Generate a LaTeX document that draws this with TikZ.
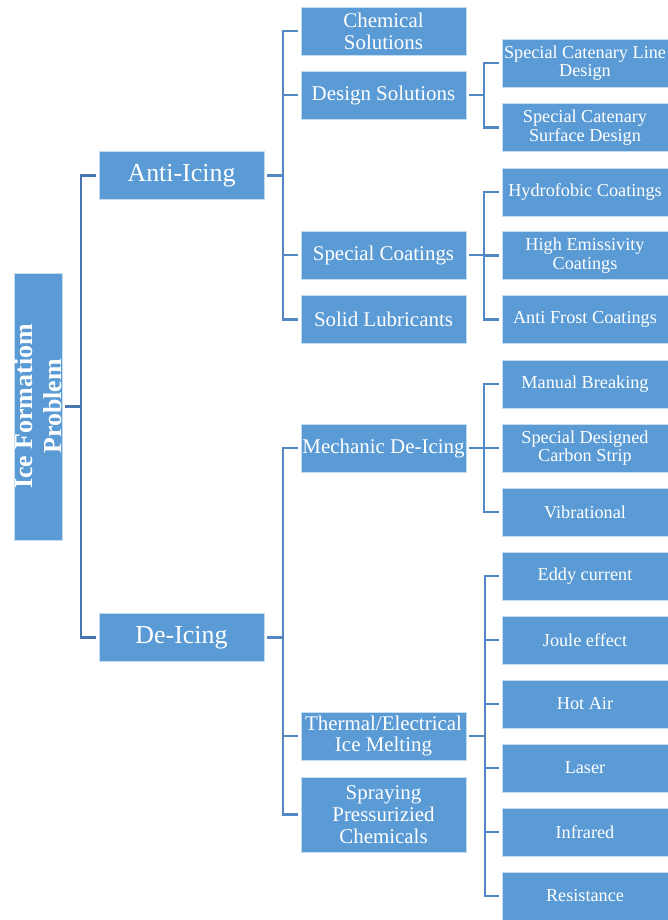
\documentclass[tikz,border=0pt]{standalone}
\usepackage{fontspec}
\setmainfont{Liberation Serif}
\definecolor{boxblue}{HTML}{5B9BD5}
\definecolor{linkblue}{HTML}{5289C4}
\definecolor{rootlink}{HTML}{4677AE}
\begin{document}
\begin{tikzpicture}[x=1bp,y=-1bp,
  box/.style={fill=boxblue, draw=white!65!boxblue, line width=0.6bp, text=white,
    inner sep=0pt, align=center, anchor=center},
  rootbox/.style={box, rotate=90, minimum width=267bp, minimum height=48bp,
    font=\bfseries\fontsize{26}{28.5}\selectfont},
  lvA/.style={box, minimum width=165bp, minimum height=48bp, font=\fontsize{26}{27}\selectfont},
  lvB/.style={box, minimum width=165bp, minimum height=48bp, font=\fontsize{21}{21.8}\selectfont},
  lvC/.style={box, minimum width=166bp, minimum height=48bp, font=\fontsize{18.3}{18.6}\selectfont},
  conn/.style={draw=linkblue, line width=2.6bp, line join=miter, shorten <=3bp, shorten >=3bp},
  rootconn/.style={conn, draw=rootlink}]
\useasboundingbox (0,0) rectangle (668,920);

% root
\node[rootbox] (root) at (38,406.5) {Ice Formatiom\\Problem};

% level 1
\node[lvA] (anti) at (181.5,175.5) {Anti-Icing};
\node[lvA] (de) at (181.5,637.5) {De-Icing};

% level 2
\node[lvB] (chem) at (383.5,31) {Chemical\\Solutions};
\node[lvB] (design) at (383.5,95) {Design Solutions};
\node[lvB] (spc) at (383.5,255) {Special Coatings};
\node[lvB] (solid) at (383.5,319.5) {Solid Lubricants};
\node[lvB] (mech) at (383.5,448) {Mechanic De-Icing};
\node[lvB] (therm) at (383.5,736) {Thermal/Electrical\\Ice Melting};
\node[lvB, minimum height=75bp] (spray) at (383.5,814.5) {Spraying\\Pressurizied\\Chemicals};

% level 3
\node[lvC] (scl) at (585,63) {Special Catenary Line\\Design};
\node[lvC] (scs) at (585,127.5) {Special Catenary\\Surface Design};
\node[lvC] (hyd) at (585,192) {Hydrofobic Coatings};
\node[lvC] (hem) at (585,255.5) {High Emissivity\\Coatings};
\node[lvC] (afc) at (585,319.5) {Anti Frost Coatings};
\node[lvC] (man) at (585,384) {Manual Breaking};
\node[lvC] (sdc) at (585,448) {Special Designed\\Carbon Strip};
\node[lvC] (vib) at (585,512) {Vibrational};
\node[lvC] (eddy) at (585,576) {Eddy current};
\node[lvC] (joule) at (585,640) {Joule effect};
\node[lvC] (hot) at (585,704) {Hot Air};
\node[lvC] (laser) at (585,768) {Laser};
\node[lvC] (ir) at (585,832) {Infrared};
\node[lvC] (res) at (585,896) {Resistance};

% connectors
\foreach \c in {anti,de}
  \draw[rootconn] (root.south) -- ++(18.5,0) |- (\c.west);
\foreach \c in {chem,design,spc,solid}
  \draw[conn] (anti.east) -- ++(18.5,0) |- (\c.west);
\foreach \c in {mech,therm,spray}
  \draw[conn] (de.east) -- ++(18.5,0) |- (\c.west);
\foreach \c in {scl,scs}
  \draw[conn] (design.east) -- ++(17.5,0) |- (\c.west);
\foreach \c in {hyd,hem,afc}
  \draw[conn] (spc.east) -- ++(17.5,0) |- (\c.west);
\foreach \c in {man,sdc,vib}
  \draw[conn] (mech.east) -- ++(17.5,0) |- (\c.west);
\foreach \c in {eddy,joule,hot,laser,ir,res}
  \draw[conn] (therm.east) -- ++(18.5,0) |- (\c.west);
\end{tikzpicture}
\end{document}
